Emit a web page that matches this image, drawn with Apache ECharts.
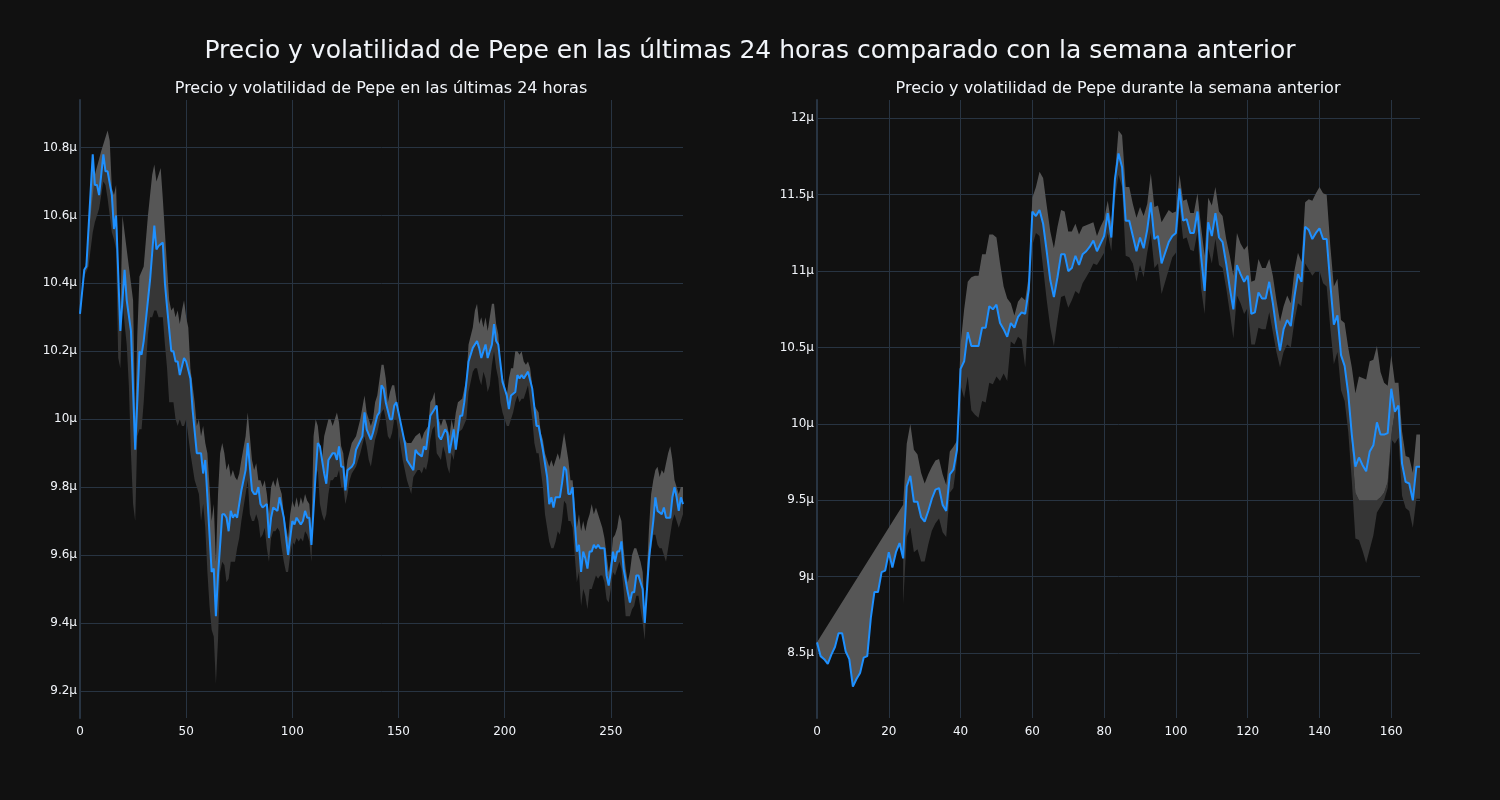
<!DOCTYPE html>
<html>
<head>
<meta charset="utf-8">
<script src="https://cdn.jsdelivr.net/npm/echarts@6/dist/echarts.min.js"></script>
<style>
html,body{margin:0;padding:0;background:#111111;}
#chart{width:1500px;height:800px;}
</style>
</head>
<body>
<div id="chart"></div>
<script>
// ---------- Data (values in μ units) ----------
const mainTitle = "Precio y volatilidad de Pepe en las últimas 24 horas comparado con la semana anterior";
const leftTitle = "Precio y volatilidad de Pepe en las últimas 24 horas";
const rightTitle = "Precio y volatilidad de Pepe durante la semana anterior";

const xTicks24 = [0, 50, 100, 150, 200, 250];
const yTicks24 = [9.2, 9.4, 9.6, 9.8, 10, 10.2, 10.4, 10.6, 10.8];
const xTicksWeek = [0, 20, 40, 60, 80, 100, 120, 140, 160];
const yTicksWeek = [8.5, 9, 9.5, 10, 10.5, 11, 11.5, 12];

// Last 24 h: price [index, value]
const price24 = [[0,10.31],[2,10.44],[3,10.45],[6,10.78],[7,10.69],[8,10.69],[9,10.66],[11,10.78],[12,10.73],[13,10.73],[15,10.66],[16,10.56],[17,10.60],[19,10.26],[21,10.44],[22,10.35],[24,10.26],[26,9.91],[28,10.20],[29,10.19],[30,10.23],[33,10.41],[35,10.57],[36,10.50],[37,10.51],[39,10.52],[40,10.40],[41,10.33],[43,10.20],[44,10.20],[45,10.17],[46,10.17],[47,10.13],[49,10.18],[50,10.17],[52,10.12],[53,10.03],[55,9.90],[57,9.90],[58,9.84],[59,9.88],[60,9.77],[62,9.55],[63,9.56],[64,9.42],[65,9.54],[67,9.72],[68,9.72],[69,9.71],[70,9.67],[71,9.73],[72,9.71],[73,9.72],[74,9.71],[76,9.79],[78,9.85],[79,9.93],[81,9.79],[82,9.78],[83,9.78],[84,9.80],[85,9.75],[86,9.74],[88,9.75],[89,9.65],[90,9.71],[91,9.74],[93,9.73],[94,9.77],[96,9.71],[98,9.60],[100,9.70],[101,9.69],[102,9.71],[104,9.69],[105,9.70],[106,9.73],[107,9.71],[108,9.71],[109,9.63],[111,9.84],[112,9.93],[113,9.92],[115,9.84],[116,9.81],[117,9.88],[119,9.90],[120,9.90],[121,9.88],[122,9.92],[123,9.86],[124,9.86],[125,9.79],[126,9.85],[128,9.86],[129,9.87],[130,9.91],[133,9.95],[134,10.02],[135,9.97],[137,9.94],[138,9.96],[140,10.01],[141,10.02],[142,10.10],[143,10.09],[144,10.05],[146,10.00],[147,10.00],[148,10.04],[149,10.05],[150,10.02],[153,9.93],[154,9.88],[157,9.85],[158,9.91],[159,9.90],[161,9.89],[162,9.92],[163,9.91],[165,10.01],[167,10.03],[168,10.04],[169,9.95],[170,9.94],[172,9.97],[173,9.96],[174,9.90],[176,9.97],[177,9.91],[179,10.01],[180,10.01],[181,10.05],[183,10.17],[185,10.21],[187,10.23],[188,10.21],[189,10.18],[191,10.22],[192,10.18],[194,10.22],[195,10.28],[196,10.23],[197,10.22],[199,10.11],[201,10.07],[202,10.03],[203,10.07],[205,10.08],[206,10.13],[207,10.12],[208,10.13],[209,10.12],[211,10.14],[213,10.09],[215,9.98],[216,9.98],[218,9.91],[220,9.83],[221,9.75],[222,9.77],[223,9.74],[224,9.77],[226,9.77],[227,9.81],[228,9.86],[229,9.85],[230,9.78],[231,9.78],[232,9.80],[233,9.70],[234,9.61],[235,9.63],[236,9.55],[237,9.61],[238,9.59],[239,9.56],[240,9.61],[241,9.61],[242,9.63],[243,9.62],[244,9.63],[245,9.62],[247,9.62],[248,9.54],[249,9.51],[250,9.55],[251,9.61],[252,9.58],[253,9.61],[254,9.61],[255,9.64],[256,9.56],[258,9.49],[259,9.46],[260,9.49],[261,9.49],[262,9.54],[263,9.54],[265,9.50],[266,9.40],[268,9.59],[270,9.70],[271,9.77],[272,9.73],[274,9.72],[275,9.74],[276,9.71],[278,9.71],[279,9.77],[280,9.80],[281,9.77],[282,9.73],[283,9.77],[284,9.75]];

const upper24 = [[0,10.32],[3,10.47],[5,10.6],[7,10.72],[10,10.79],[13,10.85],[14,10.82],[15,10.68],[16,10.66],[17,10.69],[18,10.45],[19,10.3],[20,10.6],[22,10.5],[24,10.4],[25,10.35],[26,10.0],[27,10.25],[28,10.42],[30,10.45],[32,10.6],[34,10.72],[35,10.75],[36,10.70],[37,10.72],[38,10.74],[39,10.65],[40,10.55],[41,10.45],[42,10.35],[43,10.32],[44,10.33],[45,10.3],[46,10.32],[47,10.28],[48,10.32],[49,10.35],[50,10.30],[51,10.27],[52,10.15],[54,10.05],[55,9.98],[56,10.0],[57,9.95],[58,9.98],[59,9.93],[60,9.9],[61,9.8],[62,9.7],[63,9.75],[64,9.58],[65,9.78],[66,9.9],[67,9.93],[68,9.9],[69,9.85],[70,9.87],[71,9.83],[72,9.85],[73,9.83],[74,9.82],[75,9.84],[76,9.88],[78,9.95],[79,10.02],[80,9.95],[81,9.88],[82,9.85],[83,9.87],[84,9.82],[85,9.82],[86,9.80],[87,9.82],[88,9.78],[89,9.72],[90,9.80],[91,9.82],[92,9.80],[93,9.83],[94,9.80],[95,9.78],[96,9.72],[98,9.65],[99,9.72],[100,9.76],[101,9.74],[102,9.77],[103,9.74],[104,9.77],[105,9.75],[106,9.78],[107,9.76],[108,9.75],[109,9.67],[110,9.95],[111,10.0],[112,9.98],[113,9.92],[114,9.88],[115,9.95],[117,10.0],[118,10.0],[119,9.98],[120,10.0],[121,10.02],[122,9.99],[123,9.92],[124,9.9],[125,9.83],[126,9.88],[128,9.93],[130,9.95],[132,10.0],[134,10.07],[135,10.02],[137,9.98],[138,10.0],[139,10.05],[140,10.07],[142,10.16],[143,10.16],[144,10.12],[145,10.05],[146,10.08],[147,10.1],[148,10.1],[149,10.06],[150,10.02],[152,9.95],[154,9.93],[156,9.93],[158,9.95],[160,9.96],[161,9.94],[162,9.96],[164,9.98],[165,10.05],[166,10.06],[167,10.08],[168,10.0],[169,10.0],[170,9.98],[171,10.0],[172,10.0],[173,9.98],[174,9.95],[175,10.0],[176,9.97],[177,10.02],[178,10.05],[180,10.06],[182,10.12],[183,10.22],[185,10.27],[186,10.32],[187,10.34],[188,10.28],[189,10.3],[190,10.27],[191,10.3],[192,10.26],[193,10.3],[194,10.34],[195,10.34],[196,10.28],[197,10.25],[198,10.15],[200,10.1],[201,10.07],[202,10.12],[203,10.15],[204,10.15],[205,10.2],[206,10.2],[207,10.19],[208,10.2],[209,10.17],[210,10.16],[211,10.17],[212,10.15],[213,10.1],[214,10.04],[216,10.02],[217,9.96],[218,9.94],[219,9.9],[220,9.88],[221,9.86],[222,9.88],[223,9.86],[224,9.88],[225,9.90],[226,9.88],[227,9.92],[228,9.96],[229,9.92],[230,9.88],[231,9.82],[232,9.82],[233,9.75],[234,9.68],[235,9.72],[236,9.67],[237,9.70],[238,9.67],[239,9.70],[240,9.72],[241,9.75],[242,9.72],[243,9.74],[244,9.72],[245,9.70],[246,9.68],[247,9.65],[248,9.6],[249,9.55],[250,9.58],[251,9.65],[252,9.66],[253,9.68],[254,9.72],[255,9.70],[256,9.62],[257,9.56],[258,9.52],[259,9.55],[260,9.60],[261,9.62],[262,9.62],[263,9.60],[264,9.58],[265,9.55],[266,9.43],[267,9.55],[268,9.68],[269,9.78],[270,9.82],[271,9.85],[272,9.86],[273,9.83],[274,9.85],[275,9.84],[276,9.87],[277,9.90],[278,9.92],[279,9.88],[280,9.82],[281,9.80],[282,9.78],[283,9.80],[284,9.80]];

const lower24 = [[0,10.30],[2,10.42],[4,10.45],[5,10.5],[6,10.55],[7,10.58],[9,10.62],[11,10.7],[12,10.69],[13,10.65],[14,10.6],[15,10.55],[16,10.53],[17,10.5],[18,10.18],[19,10.15],[20,10.35],[21,10.28],[22,10.22],[23,10.1],[24,9.9],[25,9.75],[26,9.70],[27,9.95],[28,9.97],[29,9.97],[30,10.05],[31,10.15],[32,10.25],[33,10.3],[34,10.3],[35,10.32],[36,10.32],[37,10.3],[38,10.3],[39,10.3],[40,10.22],[41,10.15],[42,10.05],[43,10.05],[44,10.05],[45,10.0],[46,9.98],[47,10.0],[48,9.98],[49,9.98],[50,10.0],[51,9.95],[52,9.9],[54,9.82],[55,9.80],[56,9.78],[57,9.70],[58,9.75],[59,9.68],[60,9.55],[61,9.45],[62,9.38],[63,9.36],[64,9.22],[65,9.35],[66,9.55],[67,9.58],[68,9.57],[69,9.52],[70,9.53],[71,9.58],[72,9.58],[73,9.58],[74,9.62],[75,9.65],[76,9.7],[78,9.78],[79,9.82],[80,9.72],[81,9.70],[82,9.70],[83,9.72],[84,9.70],[85,9.65],[86,9.66],[87,9.68],[88,9.62],[89,9.58],[90,9.65],[91,9.67],[92,9.67],[93,9.68],[94,9.67],[95,9.62],[96,9.58],[97,9.55],[98,9.55],[99,9.60],[100,9.64],[101,9.63],[102,9.65],[103,9.64],[104,9.65],[105,9.64],[106,9.67],[107,9.66],[108,9.64],[109,9.58],[110,9.78],[111,9.83],[112,9.85],[113,9.75],[114,9.72],[115,9.70],[116,9.72],[117,9.78],[118,9.82],[119,9.82],[120,9.83],[121,9.83],[122,9.85],[123,9.80],[124,9.80],[125,9.75],[126,9.78],[127,9.82],[128,9.84],[130,9.86],[132,9.90],[134,9.95],[135,9.92],[136,9.88],[137,9.86],[138,9.90],[139,9.94],[140,9.96],[142,10.02],[143,10.03],[144,10.0],[145,9.95],[146,9.94],[147,9.96],[148,10.0],[149,10.0],[150,9.96],[152,9.88],[154,9.82],[155,9.80],[156,9.78],[157,9.83],[158,9.84],[159,9.85],[160,9.85],[161,9.84],[162,9.86],[163,9.85],[164,9.88],[165,9.94],[166,9.97],[167,9.98],[168,9.90],[169,9.89],[170,9.88],[171,9.92],[172,9.90],[173,9.86],[174,9.84],[175,9.90],[176,9.88],[177,9.93],[178,9.96],[180,9.97],[182,10.0],[183,10.08],[185,10.14],[186,10.15],[187,10.15],[188,10.12],[189,10.10],[190,10.14],[191,10.12],[192,10.08],[193,10.10],[194,10.16],[195,10.20],[196,10.15],[197,10.12],[198,10.05],[199,10.02],[200,10.0],[201,9.98],[202,9.98],[203,10.0],[204,10.02],[205,10.05],[206,10.07],[207,10.05],[208,10.06],[209,10.06],[210,10.08],[211,10.10],[212,10.05],[213,10.0],[214,9.93],[215,9.90],[216,9.90],[217,9.85],[218,9.80],[219,9.72],[220,9.68],[221,9.64],[222,9.62],[223,9.62],[224,9.64],[225,9.67],[226,9.66],[227,9.70],[228,9.76],[229,9.75],[230,9.70],[231,9.70],[232,9.68],[233,9.60],[234,9.52],[235,9.55],[236,9.45],[237,9.50],[238,9.48],[239,9.44],[240,9.50],[241,9.50],[242,9.52],[243,9.54],[244,9.53],[245,9.54],[246,9.54],[247,9.52],[248,9.47],[249,9.46],[250,9.50],[251,9.55],[252,9.54],[253,9.56],[254,9.58],[255,9.56],[256,9.50],[257,9.42],[258,9.42],[259,9.42],[260,9.44],[261,9.45],[262,9.48],[263,9.48],[264,9.44],[265,9.40],[266,9.35],[267,9.50],[268,9.55],[269,9.62],[270,9.66],[271,9.66],[272,9.63],[273,9.62],[274,9.62],[275,9.60],[276,9.58],[277,9.62],[278,9.66],[279,9.70],[280,9.72],[281,9.70],[282,9.68],[283,9.70],[284,9.72]];

// Previous week: hourly price (index = hour 0..168)
const priceWeek = [8.57,8.48,8.46,8.43,8.49,8.54,8.63,8.63,8.51,8.46,8.28,8.33,8.37,8.47,8.48,8.73,8.90,8.90,9.03,9.04,9.16,9.06,9.16,9.22,9.12,9.59,9.66,9.49,9.49,9.39,9.36,9.43,9.51,9.57,9.58,9.47,9.43,9.67,9.70,9.83,10.36,10.41,10.60,10.51,10.51,10.51,10.63,10.63,10.77,10.75,10.78,10.66,10.62,10.57,10.66,10.63,10.70,10.73,10.72,10.88,11.39,11.36,11.40,11.31,11.13,10.94,10.83,10.96,11.11,11.11,11.00,11.02,11.10,11.04,11.11,11.13,11.16,11.20,11.13,11.18,11.23,11.38,11.22,11.60,11.77,11.68,11.33,11.33,11.23,11.13,11.22,11.15,11.27,11.45,11.21,11.23,11.05,11.12,11.19,11.23,11.25,11.54,11.33,11.34,11.25,11.25,11.39,11.10,10.87,11.32,11.23,11.38,11.22,11.19,11.05,10.89,10.75,11.04,10.98,10.93,10.97,10.72,10.73,10.86,10.82,10.82,10.93,10.79,10.62,10.48,10.62,10.68,10.64,10.83,10.98,10.93,11.29,11.27,11.21,11.25,11.28,11.21,11.21,10.92,10.65,10.71,10.45,10.38,10.20,9.93,9.72,9.78,9.73,9.69,9.82,9.86,10.01,9.93,9.93,9.94,10.23,10.08,10.12,9.74,9.62,9.61,9.50,9.72,9.72];

const upperWeek = [[0,8.57],[24,9.47],[25,9.87],[26,10.0],[27,9.83],[28,9.80],[29,9.68],[30,9.61],[31,9.67],[32,9.72],[33,9.76],[34,9.77],[35,9.67],[36,9.60],[37,9.82],[38,9.85],[39,9.89],[40,10.52],[41,10.75],[42,10.93],[43,10.96],[44,10.97],[45,10.97],[46,11.11],[47,11.11],[48,11.24],[49,11.24],[50,11.22],[51,11.05],[52,10.90],[53,10.82],[54,10.79],[55,10.71],[56,10.80],[57,10.83],[58,10.81],[59,10.97],[60,11.48],[61,11.55],[62,11.65],[63,11.61],[64,11.43],[65,11.26],[66,11.15],[67,11.29],[68,11.40],[69,11.39],[70,11.26],[71,11.26],[72,11.31],[73,11.24],[74,11.29],[75,11.30],[76,11.31],[77,11.32],[78,11.23],[79,11.29],[80,11.34],[81,11.46],[82,11.31],[83,11.63],[84,11.92],[85,11.89],[86,11.55],[87,11.55],[88,11.44],[89,11.35],[90,11.42],[91,11.36],[92,11.44],[93,11.64],[94,11.42],[95,11.43],[96,11.32],[97,11.36],[98,11.40],[99,11.38],[100,11.39],[101,11.63],[102,11.46],[103,11.47],[104,11.38],[105,11.38],[106,11.51],[107,11.29],[108,11.10],[109,11.48],[110,11.43],[111,11.55],[112,11.39],[113,11.36],[114,11.21],[115,11.10],[116,10.97],[117,11.25],[118,11.18],[119,11.14],[120,11.17],[121,10.93],[122,10.94],[123,11.08],[124,11.02],[125,11.02],[126,11.08],[127,10.97],[128,10.81],[129,10.67],[130,10.77],[131,10.84],[132,10.79],[133,11.00],[134,11.12],[135,11.06],[136,11.45],[137,11.47],[138,11.46],[139,11.51],[140,11.55],[141,11.51],[142,11.50],[143,11.17],[144,10.90],[145,10.95],[146,10.68],[147,10.66],[148,10.50],[149,10.37],[150,10.20],[151,10.31],[152,10.30],[153,10.29],[154,10.41],[155,10.42],[156,10.51],[157,10.34],[158,10.27],[159,10.25],[160,10.45],[161,10.27],[162,10.27],[163,9.95],[164,9.79],[165,9.78],[166,9.68],[167,9.93],[168,9.93]];

const lowerWeek = [[24,8.82],[25,9.26],[26,9.32],[27,9.16],[28,9.18],[29,9.10],[30,9.10],[31,9.21],[32,9.30],[33,9.35],[34,9.38],[35,9.29],[36,9.26],[37,9.55],[38,9.58],[39,9.76],[40,10.25],[41,10.17],[42,10.31],[43,10.09],[44,10.06],[45,10.04],[46,10.15],[47,10.14],[48,10.27],[49,10.26],[50,10.31],[51,10.28],[52,10.33],[53,10.28],[54,10.54],[55,10.52],[56,10.57],[57,10.55],[58,10.37],[59,10.76],[60,11.17],[61,11.25],[62,11.23],[63,11.02],[64,10.81],[65,10.63],[66,10.51],[67,10.68],[68,10.83],[69,10.84],[70,10.76],[71,10.81],[72,10.87],[73,10.85],[74,10.92],[75,10.96],[76,11.0],[77,11.05],[78,11.04],[79,11.08],[80,11.12],[81,11.25],[82,11.13],[83,11.47],[84,11.63],[85,11.55],[86,11.10],[87,11.09],[88,11.05],[89,10.93],[90,11.04],[91,10.96],[92,11.12],[93,11.25],[94,11.02],[95,11.05],[96,10.85],[97,10.93],[98,11.01],[99,11.09],[100,11.12],[101,11.42],[102,11.21],[103,11.22],[104,11.14],[105,11.13],[106,11.26],[107,10.89],[108,10.72],[109,11.15],[110,11.05],[111,11.21],[112,11.04],[113,11.02],[114,10.89],[115,10.73],[116,10.56],[117,10.84],[118,10.79],[119,10.72],[120,10.76],[121,10.52],[122,10.52],[123,10.63],[124,10.62],[125,10.62],[126,10.73],[127,10.60],[128,10.47],[129,10.37],[130,10.47],[131,10.52],[132,10.50],[133,10.67],[134,10.79],[135,10.77],[136,11.05],[137,11.01],[138,10.97],[139,11.0],[140,11.0],[141,10.92],[142,10.90],[143,10.63],[144,10.39],[145,10.47],[146,10.22],[147,10.15],[148,9.95],[149,9.63],[150,9.25],[151,9.24],[152,9.17],[153,9.09],[154,9.18],[155,9.27],[156,9.42],[157,9.46],[158,9.50],[159,9.58],[160,9.90],[161,9.87],[162,9.91],[163,9.53],[164,9.45],[165,9.43],[166,9.32],[167,9.51],[168,9.51]];

// Light/dark band boundary where it departs from the price line (week chart)
const splitWeek = [[149,9.85],[150,9.55],[151,9.50],[152,9.50],[153,9.50],[154,9.50],[155,9.50],[156,9.50],[157,9.52],[158,9.55],[159,9.62],[160,9.93]];

// ---------- Chart ----------
const FONT = '"DejaVu Sans", sans-serif';
const TXT = '#f2f5fa';
const GRIDC = '#283442';
const LIGHT = '#565656';
const DARK = '#363636';
const LINE = '#1e90ff';

const splitMap = new Map(splitWeek.map(p => [p[0], p[1]]));
const priceWeekPairs = priceWeek.map((v, i) => [i, v]);
const boundaryWeek = priceWeek.map((v, i) => [i, splitMap.has(i) ? splitMap.get(i) : v]);

function within(arr, lo, hi) { return arr.filter(p => p[0] >= lo && p[0] <= hi); }

function band(xi, top, bottom, color) {
  const lo = Math.max(top[0][0], bottom[0][0]);
  const hi = Math.min(top[top.length - 1][0], bottom[bottom.length - 1][0]);
  const t = within(top, lo, hi);
  const b = within(bottom, lo, hi);
  return {
    type: 'custom', xAxisIndex: xi, yAxisIndex: xi, silent: true, z: 1,
    data: [[t[0][0], t[0][1]]],
    renderItem: function (params, api) {
      const pts = t.map(p => api.coord(p)).concat(b.slice().reverse().map(p => api.coord(p)));
      return { type: 'polygon', shape: { points: pts }, style: { fill: color } };
    }
  };
}

function fmt(v) { return (Math.round(v * 10) / 10) + 'μ'; }

function xAxis(gi, max, ticks) {
  return {
    type: 'value', gridIndex: gi, min: 0, max: max,
    axisLine: { show: false },
    axisTick: { show: false, customValues: ticks },
    axisLabel: { customValues: ticks, color: TXT, fontSize: 12, fontFamily: FONT, margin: 8 },
    splitLine: { show: true, lineStyle: { color: GRIDC, width: 1 } }
  };
}
function yAxis(gi, min, max, ticks) {
  return {
    type: 'value', gridIndex: gi, min: min, max: max,
    axisLine: { show: true, lineStyle: { color: GRIDC, width: 2 } },
    axisTick: { show: false, customValues: ticks },
    axisLabel: { customValues: ticks, color: TXT, fontSize: 12, fontFamily: FONT, margin: 3, formatter: fmt },
    splitLine: { show: true, lineStyle: { color: GRIDC, width: 1 } }
  };
}

const chart = echarts.init(document.getElementById('chart'), null, { renderer: 'canvas' });
chart.setOption({
  backgroundColor: '#111111',
  animation: false,
  graphic: [
    { type: 'text', x: 750, y: 51, style: { text: mainTitle, fill: TXT, font: '25px ' + FONT, align: 'center', verticalAlign: 'middle' } },
    { type: 'text', x: 381, y: 89, style: { text: leftTitle, fill: TXT, font: '16px ' + FONT, align: 'center', verticalAlign: 'middle' } },
    { type: 'text', x: 1118, y: 89, style: { text: rightTitle, fill: TXT, font: '16px ' + FONT, align: 'center', verticalAlign: 'middle' } }
  ],
  grid: [
    { left: 80, top: 100, width: 603, height: 618 },
    { left: 817, top: 100, width: 603, height: 618 }
  ],
  xAxis: [xAxis(0, 284, xTicks24), xAxis(1, 168, xTicksWeek)],
  yAxis: [yAxis(0, 9.12, 10.94, yTicks24), yAxis(1, 8.075, 12.12, yTicksWeek)],
  series: [
    band(0, price24, lower24, DARK),
    band(0, upper24, price24, LIGHT),
    band(1, boundaryWeek, lowerWeek, DARK),
    band(1, upperWeek, boundaryWeek, LIGHT),
    { type: 'line', xAxisIndex: 0, yAxisIndex: 0, data: price24, showSymbol: false, z: 3,
      lineStyle: { color: LINE, width: 2 }, itemStyle: { color: LINE } },
    { type: 'line', xAxisIndex: 1, yAxisIndex: 1, data: priceWeekPairs, showSymbol: false, z: 3,
      lineStyle: { color: LINE, width: 2 }, itemStyle: { color: LINE } }
  ]
});
</script>
</body>
</html>
